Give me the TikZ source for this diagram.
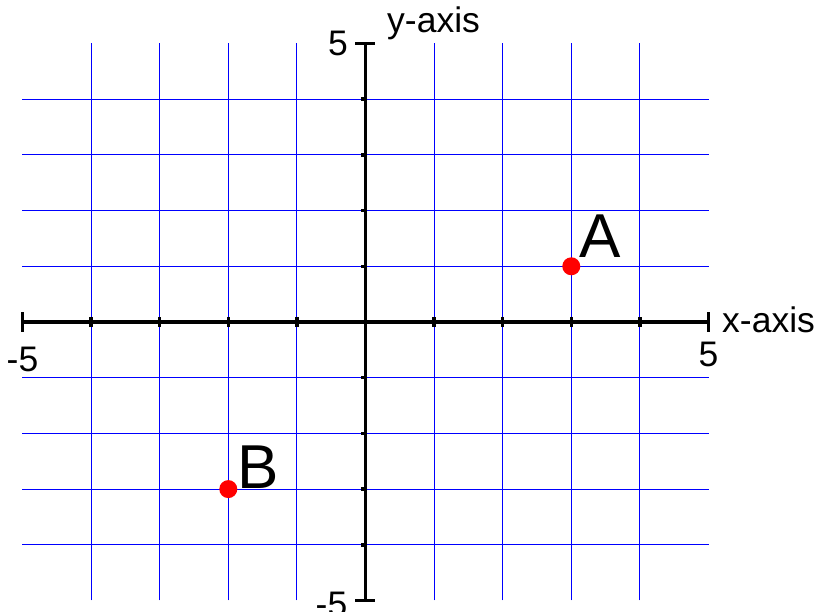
\documentclass[tikz,border=0pt]{standalone}
\usepackage{fontspec}
\setmainfont{Liberation Sans}
\begin{document}
\begin{tikzpicture}[x=68.6pt,y=55.7pt,
 gridline/.style={blue,line width=1.1pt},
 axisline/.style={black,line width=3.5pt},
 capline/.style={black,line width=3.5pt},
 tickmark/.style={black,line width=3.5pt},
 axislabel/.style={font=\fontsize{35.5}{35.5}\selectfont,inner sep=0pt},
 ptlabel/.style={font=\fontsize{62}{62}\selectfont,inner sep=0pt},
 dot/.style={circle,fill=red,minimum size=18pt,inner sep=0pt}]
\useasboundingbox (-365.5pt,-290pt) rectangle (451.5pt,322pt);
% grid
\foreach \i in {-4,-3,-2,-1,1,2,3,4}{
  \draw[gridline] (\i,-5) -- (\i,5);
  \draw[gridline] (-5,\i) -- (5,\i);
}
% axes
\coordinate (xleft) at (-5,0);
\coordinate (xright) at (5,0);
\coordinate (ytop) at (0,5);
\coordinate (ybot) at (0,-5);
\draw[axisline] (xleft) -- (xright);
\draw[axisline] (ybot) -- (ytop);
\draw[capline] ([yshift=-10pt]xleft) -- ([yshift=10pt]xleft);
\draw[capline] ([yshift=-10pt]xright) -- ([yshift=10pt]xright);
\draw[capline] ([xshift=-10pt]ytop) -- ([xshift=10pt]ytop);
\draw[capline] ([xshift=-10pt]ybot) -- ([xshift=10pt]ybot);
\foreach \i in {-4,-3,-2,-1,1,2,3,4}{
  \draw[tickmark] ([yshift=-5pt]\i,0) -- ([yshift=5pt]\i,0);
  \draw[tickmark] ([xshift=-4pt]0,\i) -- ([xshift=2pt]0,\i);
}
% labels
\node[axislabel,anchor=base west] (ylab) at ([xshift=21.5pt,yshift=10.5pt]ytop) {y-axis};
\node[axislabel,anchor=base west] (xlab) at ([xshift=13.5pt,yshift=-11pt]xright) {x-axis};
\node[axislabel,anchor=east] (ymax) at ([xshift=-17.5pt]ytop) {5};
\node[axislabel,anchor=east] (ymin) at ([xshift=-18pt,yshift=-4pt]ybot) {-5};
\node[axislabel,anchor=north] (xmin) at ([yshift=-25pt]xleft) {-5};
\node[axislabel,anchor=north] (xmax) at ([yshift=-20pt]xright) {5};
% points
\node[dot] (A) at (3,1) {};
\node[dot] (B) at (-2,-3) {};
\node[ptlabel,anchor=base west] (Alab) at ([xshift=8pt,yshift=9pt]A.center) {A};
\node[ptlabel,anchor=base west] (Blab) at ([xshift=9pt,yshift=1pt]B.center) {B};
\end{tikzpicture}
\end{document}
